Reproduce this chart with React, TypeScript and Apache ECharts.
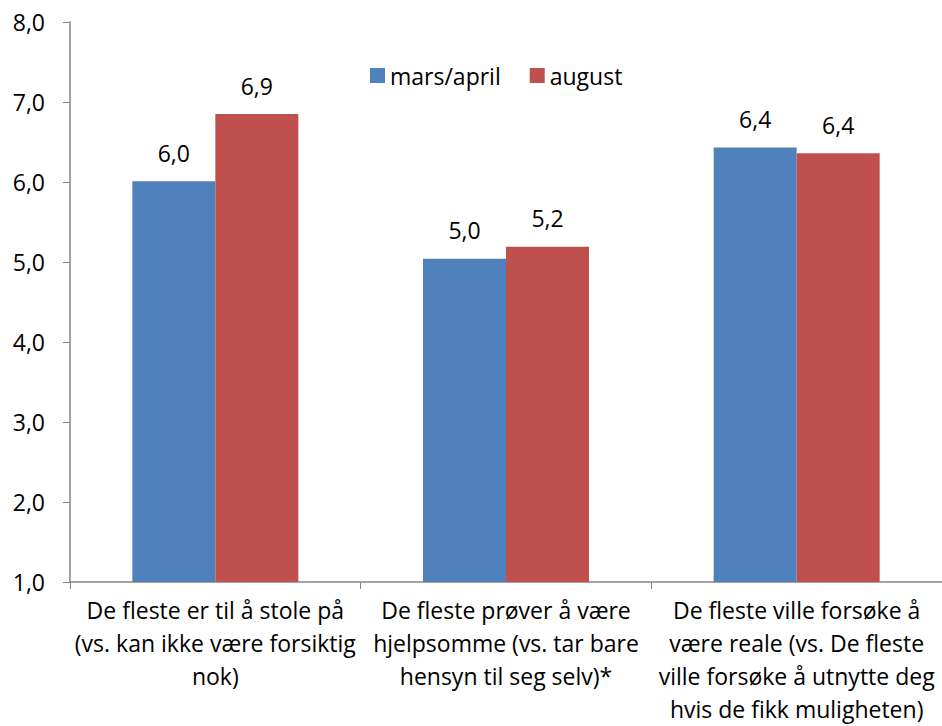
import React, { useEffect, useRef } from "react";
import * as echarts from "echarts";

const categories = [
  "De fleste er til å stole på\n(vs. kan ikke være forsiktig\nnok)",
  "De fleste prøver å være\nhjelpsomme (vs. tar bare\nhensyn til seg selv)*",
  "De fleste ville forsøke å\nvære reale (vs. De fleste\nville forsøke å utnytte deg\nhvis de fikk muligheten)",
];
const seriesNames = ["mars/april", "august"];
const marsApril = [6.01, 5.04, 6.43];
const august = [6.85, 5.19, 6.36];
const colors = ["#4F81BD", "#C0504D"];

const FONT = "'Open Sans', sans-serif";
const FS = 23;
const fmt = (v: number) => (Math.round(v * 10 + 1e-9) / 10).toFixed(1).replace(".", ",");

export default function App() {
  const ref = useRef<HTMLDivElement>(null);
  useEffect(() => {
    if (!ref.current) return;
    const chart = echarts.init(ref.current, undefined, { renderer: "svg" });
    const labelCfg = {
      show: true,
      position: "top" as const,
      distance: 17,
      fontSize: FS,
      fontFamily: FONT,
      color: "#000",
      formatter: (p: any) => fmt(p.value),
    };
    chart.setOption({
      animation: false,
      textStyle: { fontFamily: FONT },
      grid: { left: 70, top: 22, width: 873, height: 560, containLabel: false },
      legend: {
        left: 365,
        top: 59,
        itemWidth: 15,
        itemHeight: 15,
        itemGap: 29,
        icon: "rect",
        textStyle: { fontSize: FS, fontFamily: FONT, color: "#000", padding: [0, 0, 0, 0] },
        data: seriesNames,
      },
      xAxis: {
        type: "category",
        data: categories,
        axisLine: { lineStyle: { color: "#868686", width: 1.5 } },
        axisTick: { show: true, length: 7, alignWithLabel: false, lineStyle: { color: "#868686" } },
        axisLabel: {
          interval: 0,
          fontSize: FS,
          lineHeight: 33,
          margin: 11,
          color: "#000",
          fontFamily: FONT,
          align: "center",
        },
      },
      yAxis: {
        type: "value",
        min: 1,
        max: 8,
        interval: 1,
        splitLine: { show: false },
        axisLine: { show: true, lineStyle: { color: "#868686", width: 1.5 } },
        axisTick: { show: true, length: 7, lineStyle: { color: "#868686" } },
        axisLabel: {
          fontSize: FS,
          margin: 25,
          color: "#000",
          fontFamily: FONT,
          formatter: (v: number) => v.toFixed(1).replace(".", ","),
        },
      },
      series: [
        {
          name: seriesNames[0],
          type: "bar",
          data: marsApril,
          barWidth: 83,
          barGap: "0%",
          itemStyle: { color: colors[0] },
          label: labelCfg,
        },
        {
          name: seriesNames[1],
          type: "bar",
          data: august,
          barWidth: 83,
          barGap: "0%",
          itemStyle: { color: colors[1] },
          label: labelCfg,
        },
      ],
    });
    return () => chart.dispose();
  }, []);
  return (
    <div
      ref={ref}
      style={{ position: "fixed", left: 0, top: 0, width: 942, height: 726, background: "#fff" }}
    />
  );
}
